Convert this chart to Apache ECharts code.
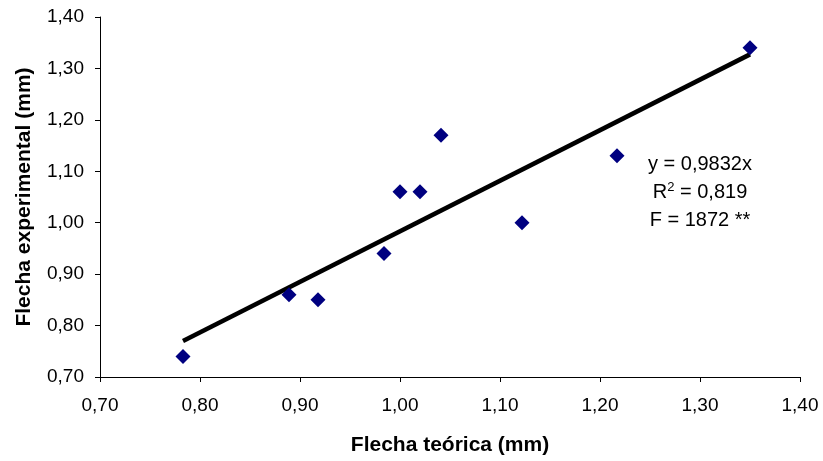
<!DOCTYPE html>
<html>
<head>
<meta charset="utf-8">
<script src="https://cdn.jsdelivr.net/npm/echarts@6/dist/echarts.min.js"></script>
<style>
  html, body { margin: 0; padding: 0; background: #fff; }
  #chart { width: 823px; height: 461px; }
</style>
</head>
<body>
<div id="chart"></div>
<script>
// Theoretical vs. experimental deflection (mm)
const flechaTeorica = [0.783, 0.889, 0.918, 0.984, 1.000, 1.020, 1.041, 1.122, 1.217, 1.350];
const flechaExperimental = [0.74, 0.86, 0.85, 0.94, 1.06, 1.06, 1.17, 1.00, 1.13, 1.34];
const slope = 0.9832;
const xTicks = [0.70, 0.80, 0.90, 1.00, 1.10, 1.20, 1.30, 1.40];
const yTicks = [0.70, 0.80, 0.90, 1.00, 1.10, 1.20, 1.30, 1.40];

const points = flechaTeorica.map((x, i) => [x, flechaExperimental[i]]);
const xMin = Math.min(...flechaTeorica);
const xMax = Math.max(...flechaTeorica);
// regression through the origin, drawn over the data range
const trend = [[xMin, slope * xMin], [xMax, slope * xMax]];

const fmt = v => v.toFixed(2).replace('.', ',');
const FONT = '"Liberation Sans", Arial, sans-serif';

// statistics block next to the fit line
const statLine = (text, y) => ({
  type: 'text',
  x: 700, y: y,
  style: {
    text: text,
    fontFamily: FONT,
    fontSize: 20,
    fill: '#000',
    align: 'center',
    verticalAlign: 'middle',
    rich: {
      r: { fontFamily: FONT, fontSize: 20, fill: '#000' },
      sup: { fontFamily: FONT, fontSize: 13, fill: '#000', verticalAlign: 'top', padding: [0, 0, 9, 0] }
    }
  }
});

const chart = echarts.init(document.getElementById('chart'), null, { renderer: 'canvas' });
chart.setOption({
  backgroundColor: '#ffffff',
  animation: false,
  textStyle: { fontFamily: FONT },
  grid: { left: 100, top: 17, width: 700, height: 363, containLabel: false },
  xAxis: {
    type: 'value',
    min: xTicks[0], max: xTicks[xTicks.length - 1], interval: 0.1,
    name: 'Flecha teórica (mm)',
    nameLocation: 'middle', nameGap: 58,
    nameTextStyle: { fontFamily: FONT, fontSize: 21, fontWeight: 'bold', color: '#000' },
    axisLine: { show: true, lineStyle: { color: '#000', width: 1 } },
    axisTick: { show: true, length: 5, inside: false, lineStyle: { color: '#000' } },
    axisLabel: { fontFamily: FONT, fontSize: 19, color: '#000', margin: 19, formatter: fmt },
    splitLine: { show: false }
  },
  yAxis: {
    type: 'value',
    min: yTicks[0], max: yTicks[yTicks.length - 1], interval: 0.1,
    name: 'Flecha experimental (mm)',
    nameLocation: 'middle', nameGap: 65, nameRotate: 90,
    nameTextStyle: { fontFamily: FONT, fontSize: 21, fontWeight: 'bold', color: '#000' },
    axisLine: { show: true, lineStyle: { color: '#000', width: 1 } },
    axisTick: { show: true, length: 5, inside: false, lineStyle: { color: '#000' } },
    axisLabel: { fontFamily: FONT, fontSize: 19, color: '#000', margin: 16, formatter: fmt },
    splitLine: { show: false }
  },
  series: [
    {
      type: 'line',
      data: trend,
      showSymbol: false,
      symbol: 'none',
      lineStyle: { color: '#000', width: 4.5 },
      z: 2
    },
    {
      type: 'scatter',
      data: points,
      symbol: 'diamond',
      symbolSize: [15, 15],
      itemStyle: { color: '#000080', opacity: 1 },
      z: 3
    }
  ],
  graphic: [
    statLine('y = 0,9832x', 164),
    statLine('{r|R}{sup|2}{r| = 0,819}', 192),
    statLine('F = 1872 **', 220)
  ]
});
</script>
</body>
</html>
